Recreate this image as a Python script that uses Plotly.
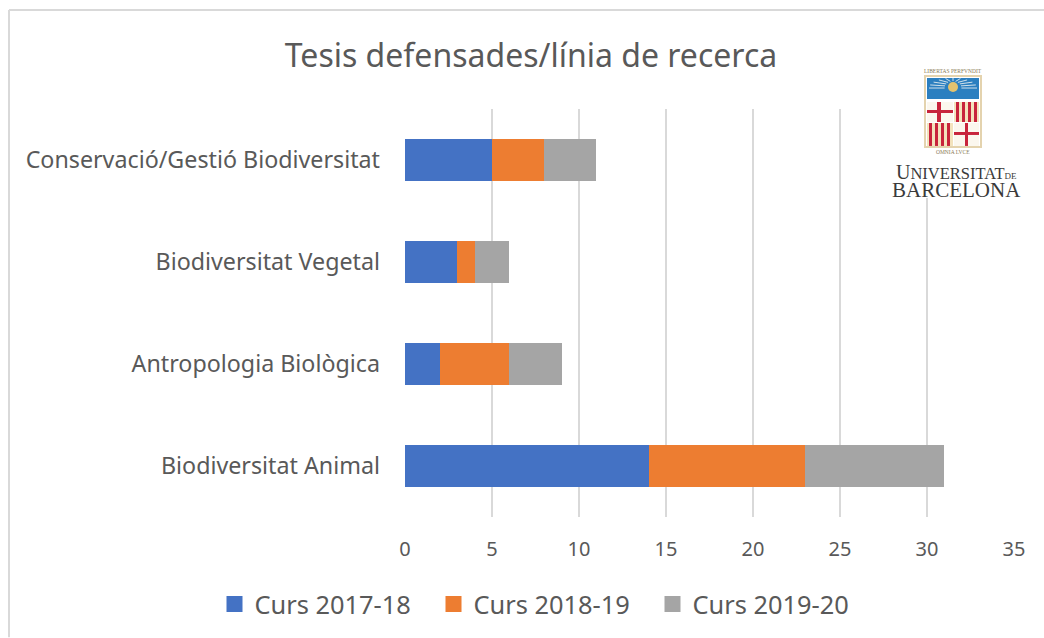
import math
import plotly.graph_objects as go

W, H = 1044, 638
L, R, T, B = 405, 1014, 109, 517.5
FONT = "Noto Sans"
TEXT = "#595959"
GRID = "#d9d9d9"

categories = ["Biodiversitat Animal", "Antropologia Biològica", "Biodiversitat Vegetal", "Conservació/Gestió Biodiversitat"]
series_names = ["Curs 2017-18", "Curs 2018-19", "Curs 2019-20"]
curs_2017_18 = [14, 2, 3, 5]
curs_2018_19 = [9, 4, 1, 3]
curs_2019_20 = [8, 3, 2, 3]
series_colors = ["#4472c4", "#ed7d31", "#a5a5a5"]
x_ticks = [0, 5, 10, 15, 20, 25, 30, 35]

fig = go.Figure()
for name, vals, col in zip(series_names, [curs_2017_18, curs_2018_19, curs_2019_20], series_colors):
    fig.add_trace(go.Bar(y=categories, x=vals, name=name, orientation="h",
                         marker=dict(color=col, line=dict(width=0)), showlegend=False))
    fig.add_trace(go.Scatter(x=[None], y=[None], mode="markers", name=name,
                             marker=dict(symbol="square", size=17, color=col)))


def px(x):
    return (x - L) / (R - L)


def py(y):
    return (B - y) / (B - T)


shapes = [
    dict(type="line", xref="paper", yref="paper", x0=px(9), x1=px(9), y0=py(10), y1=py(638), line=dict(color=GRID, width=2), layer="below"),
    dict(type="line", xref="paper", yref="paper", x0=px(9), x1=px(1044), y0=py(10), y1=py(10), line=dict(color=GRID, width=2), layer="below"),
]


def rect(x0, y0, x1, y1, color):
    shapes.append(dict(type="rect", xref="paper", yref="paper", x0=px(x0), x1=px(x1), y0=py(y0), y1=py(y1),
                       fillcolor=color, line=dict(width=0), layer="above"))


# logo: white backing hides the gridlines behind it, then the shield
rect(885, 60, 1030, 198, "#ffffff")
RED = "#c8243c"
rect(924, 75, 982, 148, "#e4d3ae")
rect(926, 77, 980, 146, "#ffffff")
rect(927, 78, 979, 99, "#2b7fc0")
for k in range(-5, 6):
    a = math.pi / 2 + k * math.pi / 10.0
    shapes.append(dict(type="line", xref="paper", yref="paper",
                       x0=px(953 + 7 * math.cos(a) * 1.2), y0=py(88 - 7 * math.sin(a)),
                       x1=px(953 + 24 * math.cos(a)), y1=py(88 - 10 * math.sin(a)),
                       line=dict(color="#cfe0ea", width=1), layer="above"))
shapes.append(dict(type="circle", xref="paper", yref="paper", x0=px(948), x1=px(958), y0=py(82), y1=py(92),
                   fillcolor="#e3c26e", line=dict(width=0), layer="above"))
rect(927, 102, 953, 122, "#fbf7ee")
rect(937, 102, 941, 122, RED)
rect(927, 110, 953, 113, RED)
rect(954, 102, 979, 122, "#f3e3bd")
for sx in (956, 962, 968, 974):
    rect(sx, 102, sx + 3, 122, RED)
rect(927, 123, 953, 146, "#f3e3bd")
for sx in (929, 935, 941, 947):
    rect(sx, 123, sx + 3, 146, RED)
rect(954, 123, 979, 146, "#fbf7ee")
rect(965, 123, 968, 146, RED)
rect(954, 132, 979, 135, RED)

LOGO = "#3a3a3a"
SERIF = "Liberation Serif"
annotations = [
    dict(text="LIBERTAS PERFVNDIT", x=px(953), y=py(71), size=5.5, col="#8a7a55"),
    dict(text="OMNIA LVCE", x=px(953), y=py(152), size=5.5, col="#8a7a55"),
    dict(text='U<span style="font-size:16.5px">NIVERSITAT</span><span style="font-size:9px">DE</span>',
         x=px(956.5), y=py(172), size=20, col=LOGO),
    dict(text="BARCELONA", x=px(956.5), y=py(190), size=21, col=LOGO),
]
annotations = [dict(text=a["text"], x=a["x"], y=a["y"], xref="paper", yref="paper", showarrow=False,
                    xanchor="center", yanchor="middle", borderpad=0,
                    font=dict(family=SERIF, size=a["size"], color=a["col"])) for a in annotations]

fig.update_layout(
    width=W, height=H, autosize=False,
    margin=dict(l=L, r=W - R, t=T, b=H - B, autoexpand=False),
    paper_bgcolor="white", plot_bgcolor="white",
    barmode="stack", bargap=0.595,
    font=dict(family=FONT, color=TEXT, size=18),
    title=dict(text="Tesis defensades/línia de recerca", x=531 / W, xanchor="center",
               y=1 - 56 / H, yanchor="middle", font=dict(size=32, color=TEXT, family=FONT)),
    xaxis=dict(range=[0, 35], tickvals=x_ticks, showgrid=True, gridcolor=GRID, gridwidth=2,
               zeroline=False, showline=False, ticks="", tickfont=dict(size=20, color=TEXT), ticklabelstandoff=18),
    yaxis=dict(type="category", categoryorder="array", categoryarray=categories, showgrid=False, zeroline=False,
               showline=False, ticks="", tickfont=dict(size=23.25, color=TEXT), ticklabelstandoff=24),
    legend=dict(orientation="h", x=px(214.5), xanchor="left", y=py(605), yanchor="middle",
                entrywidth=174, entrywidthmode="pixels", font=dict(size=25.4, color=TEXT), bgcolor="rgba(0,0,0,0)",
                traceorder="normal"),
    shapes=shapes, annotations=annotations,
)

fig.write_html("out.html", config={"displayModeBar": False},
               post_script="document.body.style.margin='0';document.documentElement.style.overflow='hidden';")
